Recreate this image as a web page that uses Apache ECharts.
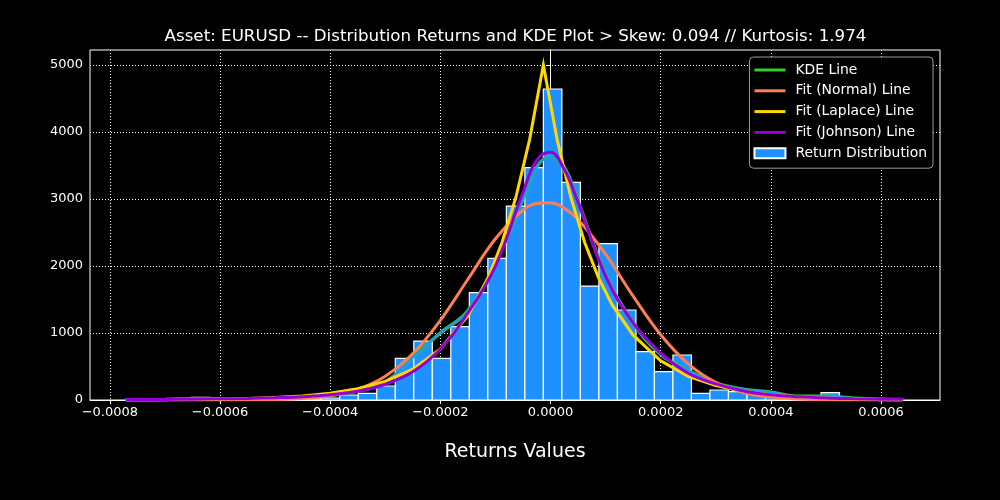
<!DOCTYPE html>
<html><head><meta charset="utf-8">
<script src="https://cdn.jsdelivr.net/npm/echarts@6/dist/echarts.min.js"></script>
<style>html,body{margin:0;padding:0;background:#000}#c{width:1000px;height:500px}</style>
</head><body><div id="c"></div>
<script>
const titleText = 'Asset: EURUSD -- Distribution Returns and KDE Plot > Skew: 0.094 // Kurtosis: 1.974';
const xAxisName = 'Returns Values';
const xTicks = [-0.0008, -0.0006, -0.0004, -0.0002, 0, 0.0002, 0.0004, 0.0006];
const yTicks = [0, 1000, 2000, 3000, 4000, 5000];

// histogram bins (left edges) and counts
const binWidth = 0.0000336;
const binLeft = [-0.00065142, -0.00061782, -0.00058422, -0.00055062, -0.00051702, -0.00048342, -0.00044982,
  -0.00041622, -0.00038262, -0.00034902, -0.00031542, -0.00028182, -0.00024822, -0.00021462, -0.00018102,
  -0.00014742, -0.00011382, -0.00008022, -0.00004662, -0.00001302, 0.00002058, 0.00005418, 0.00008778,
  0.00012138, 0.00015498, 0.00018858, 0.00022218, 0.00025578, 0.00028938, 0.00032298, 0.00035658,
  0.00039018, 0.00042378, 0.00045738, 0.00049098, 0.00052458, 0.00055818, 0.00059178];
const binCounts = [40, 5, 5, 10, 10, 15, 20,
  30, 75, 100, 209, 622, 880, 622, 1095,
  1602, 2114, 2895, 3468, 4642, 3249, 1701, 2333,
  1343, 721, 423, 672, 100, 149, 124, 140,
  40, 20, 15, 110, 15, 5, 5];

// curve sample positions and values
const curveX = [-0.000771, -0.0007, -0.00065, -0.0006, -0.00055, -0.0005, -0.00045, -0.0004, -0.00035, -0.0003,
  -0.00025, -0.0002, -0.00015, -0.0001, -0.00005, -0.000025, 0, 0.000025, 0.00005, 0.0001, 0.00015, 0.0002,
  0.00025, 0.0003, 0.00035, 0.0004, 0.00045, 0.0005, 0.00055, 0.0006, 0.00064];
const kdeY = [3, 6, 20, 18, 15, 22, 38, 72, 135, 265,
  640, 1000, 1330, 2050, 3000, 3480, 3640, 3470, 2960, 1870, 1150, 680,
  440, 250, 160, 115, 55, 55, 25, 8, 3];
const normalY = [0, 0, 0.1, 0.5, 1.9, 7, 23, 64, 161, 356,
  693, 1190, 1802, 2406, 2834, 2933, 2943, 2860, 2695, 2176, 1549, 973,
  539, 263, 113, 43, 14.5, 4.2, 1, 0.3, 0];
const johnsonY = [6, 9, 12, 17, 24, 34, 50, 78, 130, 235,
  420, 760, 1300, 2000, 3100, 3580, 3696, 3440, 2950, 1850, 1150, 700,
  400, 240, 135, 78, 48, 30, 20, 13, 10];
const laplaceX = [-0.000771, -0.0007, -0.00065, -0.0006, -0.00055, -0.0005, -0.00045, -0.0004, -0.00035, -0.0003,
  -0.00025, -0.0002, -0.00015, -0.000113, -0.000088, -0.000063, -0.000038, -0.000013, 0.000012, 0.000037,
  0.000062, 0.000087, 0.000112, 0.00015, 0.0002, 0.00025, 0.0003, 0.00035, 0.0004, 0.00045, 0.0005,
  0.00055, 0.0006, 0.00064];
const laplaceY = [2.4, 4.9, 8.2, 13.6, 22.4, 37, 61, 101, 168, 278,
  459, 761, 1258, 1827, 2350, 3022, 3887, 5000, 3887, 3022,
  2350, 1827, 1420, 968, 585, 354, 214, 129, 78, 47, 28.5,
  17, 10.4, 7];

const FONT = 'DejaVu Sans';
const LINE_ICON = 'path://M0,0H31V3H0Z';
const zip = (xs, ys) => xs.map((x, i) => [x, ys[i]]);
const histData = binLeft.map((x, i) => [x, x + binWidth, binCounts[i]]);
const fmtX = v => {
  const s = Math.abs(v) < 1e-12 ? '0.0000' : v.toFixed(4);
  return s.replace('-', '\u2212');
};

const chart = echarts.init(document.getElementById('c'));
chart.setOption({
  backgroundColor: '#000',
  animation: false,
  textStyle: { fontFamily: FONT },
  title: {
    text: titleText, left: 510.5, top: 23, textAlign: 'center',
    textStyle: { color: '#fff', fontSize: 16.7, fontWeight: 'normal', fontFamily: FONT }
  },
  grid: { left: 90, right: 60, top: 50, bottom: 100, show: true, borderColor: '#fff', borderWidth: 1, backgroundColor: 'transparent' },
  legend: {
    orient: 'vertical', right: 67, top: 57,
    data: [
      { name: 'KDE Line', icon: LINE_ICON }, { name: 'Fit (Normal) Line', icon: LINE_ICON },
      { name: 'Fit (Laplace) Line', icon: LINE_ICON }, { name: 'Fit (Johnson) Line', icon: LINE_ICON },
      { name: 'Return Distribution', icon: 'rect' }
    ],
    symbolKeepAspect: true,
    itemWidth: 31, itemHeight: 10, itemGap: 6.8,
    padding: [6, 6, 8, 4],
    backgroundColor: '#000', borderColor: '#999', borderWidth: 1, borderRadius: 4,
    textStyle: { color: '#fff', fontSize: 13.9, fontFamily: FONT, lineHeight: 14, padding: [0, 0, 0, 5] }
  },
  xAxis: {
    type: 'value', min: -0.000836, max: 0.000707,
    name: xAxisName, nameLocation: 'middle', nameGap: 43,
    nameTextStyle: { color: '#fff', fontSize: 19, fontFamily: FONT },
    axisLine: { show: true, lineStyle: { color: '#fff', width: 1 } },
    axisTick: { show: true, customValues: xTicks, length: 4, lineStyle: { color: '#fff' } },
    axisLabel: { customValues: xTicks, color: '#fff', fontSize: 13, margin: 6, formatter: fmtX, fontFamily: FONT },
    splitLine: { show: true, lineStyle: { color: '#fff', type: [1, 2], width: 1 } }
  },
  yAxis: {
    type: 'value', min: 0, max: 5224,
    axisLine: { show: true, lineStyle: { color: '#fff', width: 1 } },
    axisTick: { show: true, customValues: yTicks, length: 4, lineStyle: { color: '#fff' } },
    axisLabel: { customValues: yTicks, color: '#fff', fontSize: 13, margin: 7, fontFamily: FONT, formatter: v => String(v) },
    splitLine: { show: true, lineStyle: { color: '#fff', type: [1, 2], width: 1 } }
  },
  series: [
    {
      name: 'Return Distribution', type: 'custom', data: histData, encode: { x: [0, 1], y: 2 }, z: 1, clip: true,
      itemStyle: { color: '#1E90FF', borderColor: '#fff', borderWidth: 1.5 },
      renderItem: (params, api) => {
        const p0 = api.coord([api.value(0), api.value(2)]);
        const p1 = api.coord([api.value(1), 0]);
        return { type: 'rect', shape: { x: p0[0], y: p0[1], width: p1[0] - p0[0], height: p1[1] - p0[1] },
          style: { fill: '#1E90FF', stroke: '#fff', lineWidth: 1.2 } };
      }
    },
    { name: 'KDE Line', type: 'line', data: zip(curveX, kdeY), smooth: 0.4, symbol: 'none', z: 3,
      lineStyle: { color: '#32CD32', width: 3.5 }, itemStyle: { color: '#32CD32' } },
    { name: 'KDE overlay', type: 'line', data: zip(curveX, kdeY), smooth: 0.4, symbol: 'none', z: 3,
      lineStyle: { color: '#1E90FF', width: 2 }, itemStyle: { color: '#1E90FF' } },
    { name: 'Fit (Normal) Line', type: 'line', data: zip(curveX, normalY), smooth: 0.4, symbol: 'none', z: 4,
      lineStyle: { color: '#FF7F50', width: 3 }, itemStyle: { color: '#FF7F50' } },
    { name: 'Fit (Laplace) Line', type: 'line', data: zip(laplaceX, laplaceY), smooth: false, symbol: 'none', z: 5,
      lineStyle: { color: '#FFD700', width: 3, join: 'miter' }, itemStyle: { color: '#FFD700' } },
    { name: 'Fit (Johnson) Line', type: 'line', data: zip(curveX, johnsonY), smooth: 0.4, symbol: 'none', z: 6,
      lineStyle: { color: '#9400D3', width: 3 }, itemStyle: { color: '#9400D3' } }
  ]
});
</script></body></html>
